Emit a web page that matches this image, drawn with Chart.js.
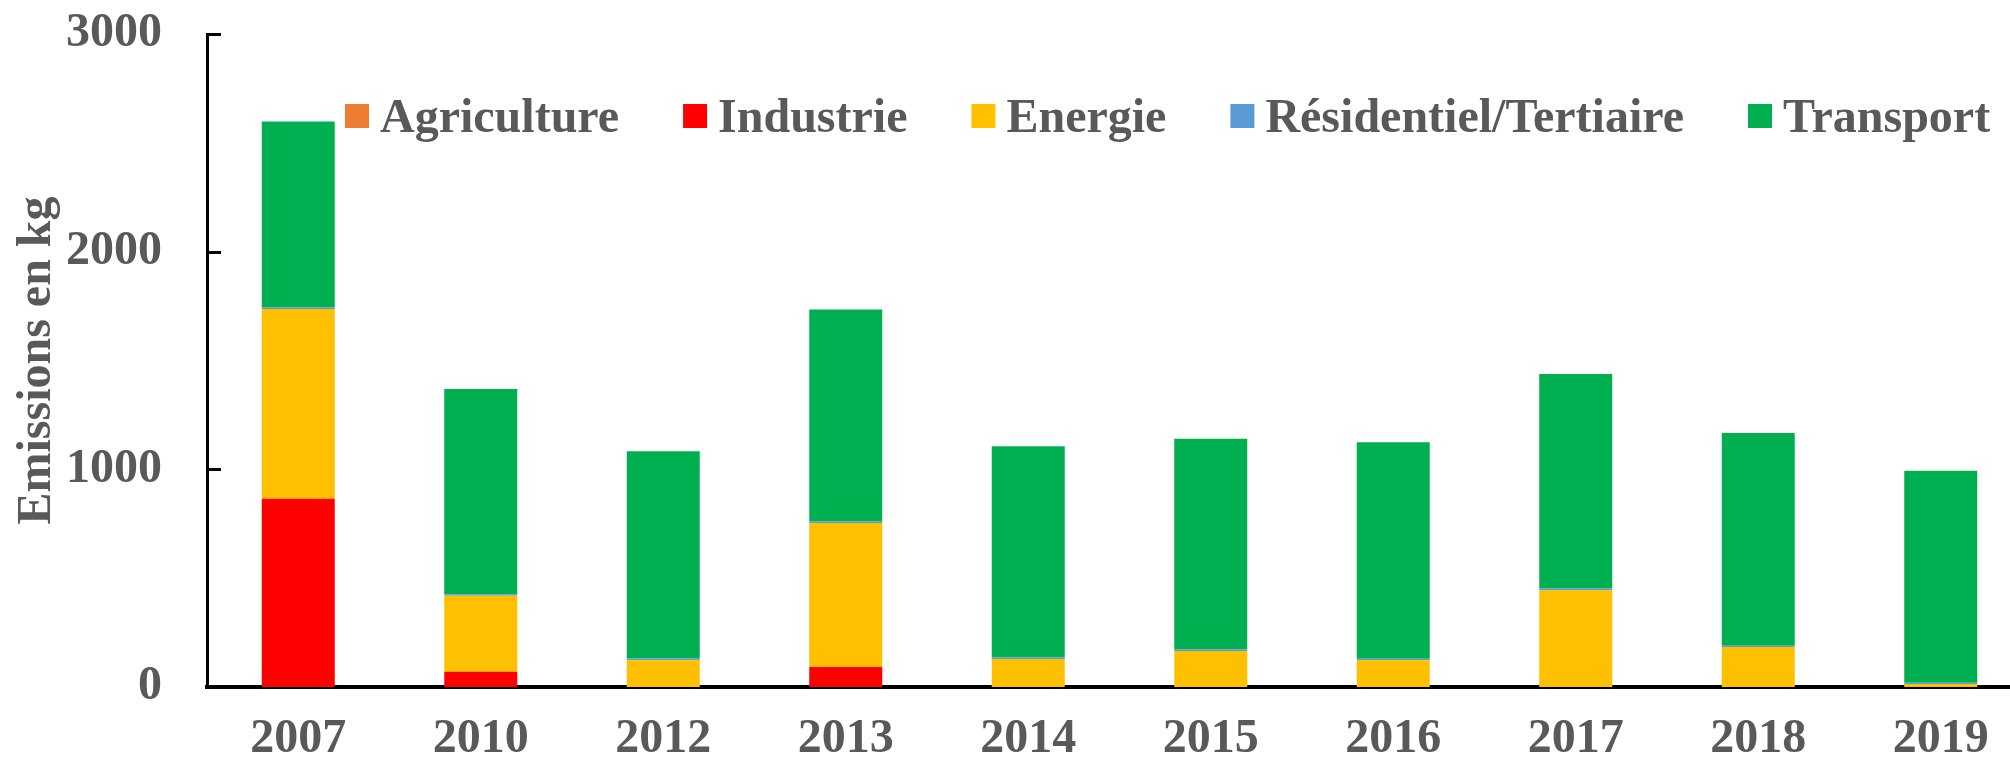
<!DOCTYPE html>
<html>
<head>
<meta charset="utf-8">
<script src="https://cdn.jsdelivr.net/npm/chart.js@4"></script>
<style>
  html, body { margin: 0; padding: 0; background: #fff; overflow: hidden; }
  #wrap { width: 2032px; height: 763px; }
</style>
</head>
<body>
<div id="wrap"><canvas id="emChart" width="2032" height="763"></canvas></div>
<script>
// years on the x axis
const years = ["2007", "2010", "2012", "2013", "2014", "2015", "2016", "2017", "2018", "2019"];

// emissions per sector (kg)
const agriculture = [0, 0, 0, 0, 0, 0, 0, 0, 0, 0];
const industrie   = [865, 70, 0, 92, 0, 0, 0, 0, 0, 0];
const energie     = [872, 349, 123, 661, 129, 165, 123, 444, 184, 14];
const residentiel = [6, 7, 8, 9, 7, 8, 7, 8, 6, 6];
const transport   = [855, 943, 952, 972, 970, 968, 994, 986, 977, 974];

const yTicks = [0, 1000, 2000, 3000];

const textColor = "#595959";
const serif = "'Liberation Serif', 'Times New Roman', serif";

// inward tick marks on the y axis
const innerTicks = {
  id: "innerTicks",
  afterDraw(chart) {
    const y = chart.scales.y;
    const ctx = chart.ctx;
    ctx.save();
    ctx.strokeStyle = "#000";
    ctx.lineWidth = 3;
    y.ticks.forEach(t => {
      const py = Math.round(y.getPixelForValue(t.value)) + 0.5;
      ctx.beginPath();
      ctx.moveTo(chart.chartArea.left - 1, py);
      ctx.lineTo(chart.chartArea.left + 14, py);
      ctx.stroke();
    });
    ctx.restore();
  }
};

// legend drawn in one row inside the plot, small gap between box and text
const rowLegend = {
  id: "rowLegend",
  afterDraw(chart) {
    const ctx = chart.ctx;
    ctx.save();
    ctx.font = "bold 48px " + serif;
    ctx.textBaseline = "alphabetic";
    ctx.textAlign = "left";
    let x = 345;
    const box = 24, boxTop = 104, baseline = 132;
    chart.data.datasets.forEach(ds => {
      ctx.fillStyle = ds.backgroundColor;
      ctx.fillRect(x, boxTop, box, box);
      ctx.fillStyle = textColor;
      ctx.fillText(ds.label, x + box + 11, baseline);
      x += box + 11 + ctx.measureText(ds.label).width + 64;
    });
    ctx.restore();
  }
};

new Chart(document.getElementById("emChart"), {
  type: "bar",
  data: {
    labels: years,
    datasets: [
      { label: "Agriculture", data: agriculture, backgroundColor: "#ED7D31" },
      { label: "Industrie", data: industrie, backgroundColor: "#FF0000" },
      { label: "Energie", data: energie, backgroundColor: "#FFC000" },
      { label: "Résidentiel/Tertiaire", data: residentiel, backgroundColor: "#5B9BD5" },
      { label: "Transport", data: transport, backgroundColor: "#00B050" }
    ]
  },
  options: {
    responsive: false,
    animation: false,
    devicePixelRatio: 1,
    layout: { padding: { top: 34, right: 0, bottom: 0, left: 0 } },
    datasets: {
      bar: { categoryPercentage: 1.0, barPercentage: 0.4, borderWidth: 0 }
    },
    plugins: {
      legend: { display: false },
      tooltip: { enabled: false }
    },
    scales: {
      x: {
        stacked: true,
        grid: { display: false, drawTicks: false },
        border: { display: true, color: "#000", width: 4 },
        ticks: {
          color: textColor,
          font: { family: serif, size: 48, weight: "bold" },
          padding: 24,
          maxRotation: 0
        },
        afterFit(scale) {
          scale.height = 76;
          scale.paddingLeft = 0;
          scale.paddingRight = 0;
        }
      },
      y: {
        stacked: true,
        min: yTicks[0],
        max: yTicks[yTicks.length - 1],
        afterBuildTicks(scale) {
          scale.ticks = yTicks.map(v => ({ value: v }));
        },
        grid: { display: false, drawTicks: false },
        border: { display: true, color: "#000", width: 3 },
        ticks: {
          color: textColor,
          font: { family: serif, size: 48, weight: "bold" },
          padding: 45,
          callback: v => String(v)
        },
        title: {
          display: true,
          text: "Emissions en kg",
          color: textColor,
          font: { family: serif, size: 48, weight: "bold" },
          padding: { top: 9, bottom: 0 }
        },
        afterFit(scale) {
          scale.width = 207;
          scale.paddingTop = 0;
          scale.paddingBottom = 0;
        }
      }
    }
  },
  plugins: [innerTicks, rowLegend]
});
</script>
</body>
</html>
